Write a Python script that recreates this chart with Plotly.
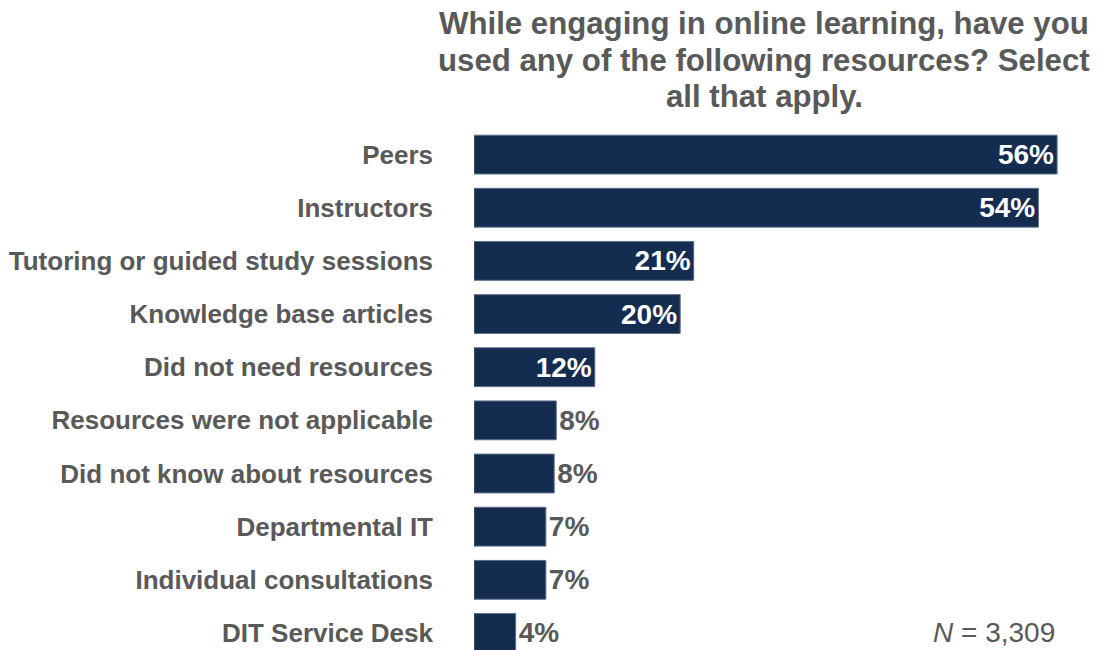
import plotly.graph_objects as go

categories = ["Peers", "Instructors", "Tutoring or guided study sessions",
              "Knowledge base articles", "Did not need resources",
              "Resources were not applicable", "Did not know about resources",
              "Departmental IT", "Individual consultations", "DIT Service Desk"]
values = [56.0, 54.2, 21.1, 19.8, 11.6, 7.9, 7.7, 6.9, 6.9, 4.0]
labels = ["56%", "54%", "21%", "20%", "12%", "8%", "8%", "7%", "7%", "4%"]
n_note = "<i>N</i> = 3,309"
title_lines = ["While engaging in online learning, have you",
               "used any of the following resources? Select",
               "all that apply."]

BAR = "#132c50"
GRAY = "#595959"
FONT = "Liberation Sans"

positions = ["inside" if v >= 10 else "outside" for v in values]

fig = go.Figure(go.Bar(
    x=values, y=categories, orientation="h",
    marker=dict(color=BAR, line=dict(color="#5a6d8a", width=1)),
    text=labels, textposition=positions, insidetextanchor="end",
    insidetextfont=dict(color="white", size=28, family=FONT, weight="bold"),
    outsidetextfont=dict(color=GRAY, size=28, family=FONT, weight="bold"),
    constraintext="none", cliponaxis=False,
    width=0.73,
))

annotations = [
    dict(text=n_note, x=56.0, xref="x", y=9, yref="y", showarrow=False,
         xanchor="right", yanchor="middle",
         font=dict(family=FONT, size=28, color=GRAY)),
]
# title lines: screen centers ~23, 60, 97 px; plot area spans 128..650 px
for line, ys in zip(title_lines, [23.5, 60, 97]):
    annotations.append(dict(
        text=line, x=0.4596, xref="paper", y=(650 - ys) / 522, yref="paper",
        showarrow=False, xanchor="center", yanchor="middle",
        font=dict(family=FONT, size=31.2, color=GRAY, weight="bold")))

fig.update_layout(
    width=1097, height=642,
    margin=dict(l=466, r=0, t=120, b=0),
    plot_bgcolor="white", paper_bgcolor="white",
    showlegend=False,
    xaxis=dict(range=[0, 60.6], visible=False, fixedrange=True),
    yaxis=dict(range=[9.32, -0.5], showgrid=False, zeroline=False,
               showline=False, ticks="",
               tickfont=dict(family=FONT, size=26, color=GRAY, weight="bold"),
               ticklabelstandoff=40),
    annotations=annotations,
)

fig.write_html("out.html")
